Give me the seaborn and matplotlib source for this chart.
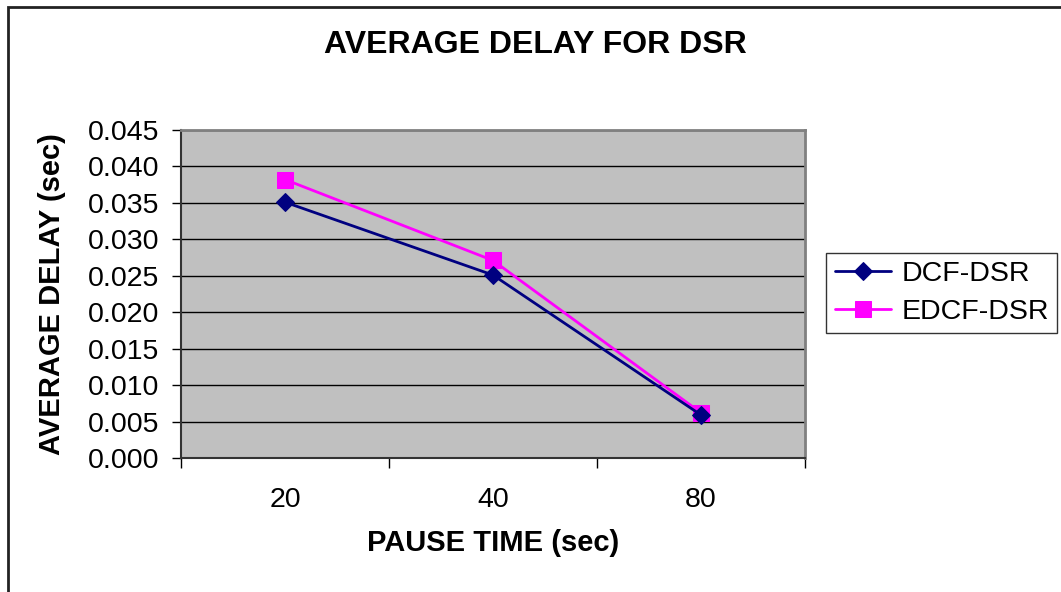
import matplotlib
matplotlib.use("Agg")
import matplotlib.pyplot as plt
import seaborn as sns
import pandas as pd
from matplotlib.patches import Rectangle

categories = ["20", "40", "80"]
dcf_dsr = [0.0351, 0.0251, 0.0059]
edcf_dsr = [0.0382, 0.0271, 0.0062]
yticks = [0.000, 0.005, 0.010, 0.015, 0.020, 0.025, 0.030, 0.035, 0.040, 0.045]

sns.set_theme(style="white")
plt.rcParams['font.family'] = ['Liberation Sans', 'DejaVu Sans']
plt.rcParams.update({"text.color": "black", "axes.labelcolor": "black",
                     "xtick.color": "black", "ytick.color": "black"})

W, H = 1061, 592
fig = plt.figure(figsize=(W / 100, H / 100), dpi=100)
ax = fig.add_axes([181 / W, 1 - 458 / H, (805 - 181) / W, (458 - 130) / H])
ax.set_facecolor("#C0C0C0")

df = pd.DataFrame({
    "pos": list(range(len(categories))) * 2,
    "value": dcf_dsr + edcf_dsr,
    "series": ["DCF-DSR"] * 3 + ["EDCF-DSR"] * 3,
})

sns.lineplot(data=df[df.series == "DCF-DSR"], x="pos", y="value", ax=ax,
             color="#000080", marker="D", markersize=9, linewidth=2,
             markeredgecolor="#000080", label="DCF-DSR", zorder=4)
sns.lineplot(data=df[df.series == "EDCF-DSR"], x="pos", y="value", ax=ax,
             color="#FF00FF", marker="s", markersize=11, linewidth=2,
             markeredgecolor="#FF00FF", label="EDCF-DSR", zorder=3)

ax.set_xlim(-0.5, 2.5)
ax.set_ylim(0, 0.045)
ax.set_yticks(yticks)
ax.set_yticklabels([f"{v:.3f}" for v in yticks])
ax.yaxis.grid(True, color="black", linewidth=1)
ax.xaxis.grid(False)
ax.set_axisbelow(True)

ax.set_xticks([0, 1, 2])
ax.set_xticklabels(categories)
ax.set_xticks([-0.5, 0.5, 1.5, 2.5], minor=True)
ax.tick_params(axis="x", which="major", length=0, labelsize=20.5, pad=21, colors="black")
ax.tick_params(axis="x", which="minor", length=7, width=1, direction="out", color="black", bottom=True)
ax.tick_params(axis="y", which="major", length=6.5, width=1, direction="out", labelsize=20.5,
               color="black", labelcolor="black", left=True, pad=9)

for s in ["top", "right"]:
    ax.spines[s].set_color("#808080")
    ax.spines[s].set_linewidth(2)
for s in ["left", "bottom"]:
    ax.spines[s].set_color("#333333")
    ax.spines[s].set_linewidth(1.5)

xl = ax.set_xlabel("PAUSE TIME (sec)", fontsize=21, fontweight="bold", color="black")
xl.set_va("center")
ax.xaxis.set_label_coords(0.5, (458 - 543) / 328)
yl = ax.set_ylabel("AVERAGE DELAY (sec)", fontsize=21, fontweight="bold", color="black")
yl.set_va("center")
ax.yaxis.set_label_coords((52 - 181) / 624, 0.5)

fig.text(535 / W, 1 - 45 / H, "AVERAGE DELAY FOR DSR", ha="center", va="center",
         fontsize=23, fontweight="bold", color="black")

leg = ax.legend(loc="center left", bbox_to_anchor=(826 / W, 1 - 293 / H),
                bbox_transform=fig.transFigure, frameon=True, fancybox=False,
                fontsize=20.5, handlelength=2.0, borderpad=0.3, labelspacing=0.4,
                handletextpad=0.35, borderaxespad=0)
leg.get_frame().set_edgecolor("black")
leg.get_frame().set_linewidth(1)
for t in leg.get_texts():
    t.set_color("black")

fig.patches.append(Rectangle((8 / W, -0.1), 1.2, 1 - 7 / H + 0.1, transform=fig.transFigure,
                             fill=False, edgecolor="#222222", linewidth=2))

fig.savefig("out.png", dpi=100, facecolor="white")
